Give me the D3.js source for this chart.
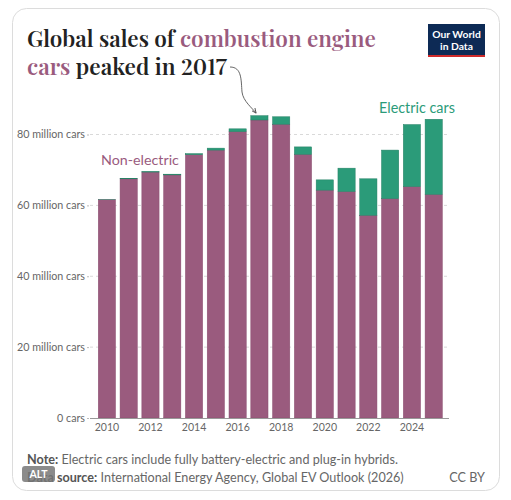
<!DOCTYPE html>
<html>
<head>
<meta charset="utf-8">
<script src="https://cdn.jsdelivr.net/npm/d3@7.9.0/dist/d3.min.js"></script>
<style>
  html, body { margin: 0; padding: 0; background: #fff; }
  svg { display: block; font-family: Lato, "Noto Sans", sans-serif; }
  .title { font-variant-numeric: lining-nums; font-feature-settings: "lnum" 1; }
</style>
</head>
<body>
<div id="chart"></div>
<script>
// values in million cars
const years = [2010, 2011, 2012, 2013, 2014, 2015, 2016, 2017, 2018, 2019, 2020, 2021, 2022, 2023, 2024, 2025];
const nonElectric = [61.6, 67.5, 69.4, 68.6, 74.3, 75.6, 80.8, 84.1, 82.9, 74.4, 64.3, 63.9, 57.2, 61.9, 65.3, 63.1];
const electric = [0.02, 0.05, 0.12, 0.2, 0.3, 0.55, 0.8, 1.2, 2.1, 2.1, 2.9, 6.6, 10.3, 13.7, 17.5, 21.2];
const yTicks = [0, 20, 40, 60, 80];
const xTicks = [2010, 2012, 2014, 2016, 2018, 2020, 2022, 2024];

const width = 511, height = 500;
const purple = "#9a5b7e", green = "#2b9b79";

const svg = d3.select("#chart").append("svg")
  .attr("width", width).attr("height", height);

// font size that makes a sample string a given width
function sizeFor(str, target, attrs) {
  const t = svg.append("text").attr("font-size", 20).text(str);
  Object.entries(attrs || {}).forEach(([k, v]) => t.attr(k, v));
  const w = t.node().getComputedTextLength();
  t.remove();
  return 20 * target / w;
}

// card
svg.append("rect")
  .attr("x", 12.5).attr("y", 8.5).attr("width", 487).attr("height", 482)
  .attr("rx", 14).attr("fill", "#fff").attr("stroke", "#dcdcdc");

const x = d3.scaleBand()
  .domain(years)
  .range([96.1, 444.5])
  .paddingInner(0.21)
  .paddingOuter(0.1);

const y = d3.scaleLinear()
  .domain([0, 80])
  .range([418, 134.5]);

// gridlines
svg.append("g").attr("class", "gridlines")
  .selectAll("line")
  .data(yTicks.filter(d => d > 0))
  .join("line")
  .attr("x1", 90).attr("x2", 450)
  .attr("y1", d => y(d)).attr("y2", d => y(d))
  .attr("stroke", "#d9d9d9")
  .attr("stroke-dasharray", "3,3");

// y axis labels
const yFont = sizeFor("80 million cars", 68);
const yAxis = d3.axisLeft(y)
  .tickValues(yTicks)
  .tickSize(2)
  .tickPadding(2)
  .tickFormat(d => d === 0 ? "0 cars" : d + " million cars");
svg.append("g")
  .attr("transform", "translate(89,0)")
  .call(yAxis)
  .call(g => g.select(".domain").remove())
  .call(g => g.selectAll(".tick line").attr("stroke", "#bbb"))
  .call(g => g.selectAll("text")
    .attr("fill", "#666").attr("font-size", yFont)
    .attr("font-family", "Lato, sans-serif"));

// stacked bars
const rows = years.map((yr, i) => ({ year: yr, ne: nonElectric[i], ev: electric[i] }));

svg.append("g").selectAll("rect")
  .data(rows)
  .join("rect")
  .attr("x", d => x(d.year))
  .attr("width", x.bandwidth())
  .attr("y", d => y(d.ne))
  .attr("height", d => y(0) - y(d.ne))
  .attr("fill", purple)
  .attr("stroke", "#8a4d6f").attr("stroke-width", 0.5);

svg.append("g").selectAll("rect")
  .data(rows)
  .join("rect")
  .attr("x", d => x(d.year))
  .attr("width", x.bandwidth())
  .attr("y", d => y(d.ne + d.ev))
  .attr("height", d => y(d.ne) - y(d.ne + d.ev))
  .attr("fill", green)
  .attr("stroke", "#237f63").attr("stroke-width", 0.5);

// baseline + x axis
svg.append("line")
  .attr("x1", 90).attr("x2", 449)
  .attr("y1", y(0) + 0.5).attr("y2", y(0) + 0.5)
  .attr("stroke", "#999");

const xFont = sizeFor("2010", 24.5);
const xAxis = d3.axisBottom(x)
  .tickValues(xTicks)
  .tickSize(0)
  .tickPadding(6);
svg.append("g")
  .attr("transform", `translate(0, ${y(0)})`)
  .call(xAxis)
  .call(g => g.select(".domain").remove())
  .call(g => g.selectAll("text")
    .attr("fill", "#666").attr("font-size", xFont)
    .attr("font-family", "Lato, sans-serif"));

// series labels
svg.append("text")
  .attr("x", 101).attr("y", 165)
  .attr("font-size", sizeFor("Non-electric", 78)).attr("fill", purple)
  .text("Non-electric");
svg.append("text")
  .attr("x", 379).attr("y", 112.5)
  .attr("font-size", sizeFor("Electric cars", 76)).attr("fill", green)
  .text("Electric cars");

// title
const titleFont = "'Playfair Display', 'DejaVu Serif', serif";
function fitText(sel, target) {
  const w = sel.node().getComputedTextLength();
  const fs = parseFloat(sel.attr("font-size"));
  sel.attr("font-size", fs * target / w);
}
const t1 = svg.append("text").attr("class", "title")
  .attr("x", 27).attr("y", 47)
  .attr("font-family", titleFont).attr("font-size", 22)
  .attr("font-weight", 600).attr("fill", "#222");
t1.append("tspan").text("Global sales of ");
t1.append("tspan").attr("fill", purple).text("combustion engine");
fitText(t1, 349);

const t2 = svg.append("text").attr("class", "title")
  .attr("x", 27).attr("y", 74.5)
  .attr("font-family", titleFont).attr("font-size", 22)
  .attr("font-weight", 600).attr("fill", "#222");
t2.append("tspan").attr("fill", purple).text("cars");
t2.append("tspan").text(" peaked in 2017");
fitText(t2, 200);

// arrow to 2017
svg.append("defs").append("marker")
  .attr("id", "arrowhead")
  .attr("viewBox", "0 0 10 10")
  .attr("refX", 8).attr("refY", 5)
  .attr("markerWidth", 6).attr("markerHeight", 6)
  .attr("orient", "auto")
  .append("path")
  .attr("d", "M0,1 L9,5 L0,9")
  .attr("fill", "none").attr("stroke", "#444").attr("stroke-width", 1.5);

const tip = [x(2017) + 5, y(nonElectric[7] + electric[7]) - 3];
svg.append("path")
  .attr("d", `M230,67 C242,67 241,80 242,92 C243,101 ${tip[0] - 3},${tip[1] - 4} ${tip[0]},${tip[1]}`)
  .attr("fill", "none").attr("stroke", "#555").attr("stroke-width", 0.9)
  .attr("marker-end", "url(#arrowhead)");

// logo
const logoFont = sizeFor("Our World", 48.5, { "font-weight": 700 });
const logo = svg.append("g").attr("transform", "translate(428,24)");
logo.append("rect").attr("width", 57).attr("height", 33).attr("fill", "#0d2a55");
logo.append("rect").attr("y", 31).attr("width", 57).attr("height", 2).attr("fill", "#cf2a2a");
logo.append("text").attr("x", 28.5).attr("y", 14)
  .attr("text-anchor", "middle").attr("fill", "#fff")
  .attr("font-size", logoFont).attr("font-weight", 700).text("Our World");
logo.append("text").attr("x", 28.5).attr("y", 25.5)
  .attr("text-anchor", "middle").attr("fill", "#fff")
  .attr("font-size", logoFont).attr("font-weight", 700).text("in Data");

// footer
const note = svg.append("text")
  .attr("x", 27).attr("y", 463.5)
  .attr("font-size", 11.5).attr("fill", "#666");
note.append("tspan").attr("font-weight", 700).attr("fill", "#555").text("Note:");
note.append("tspan").text(" Electric cars include fully battery-electric and plug-in hybrids.");
fitText(note, 371);
const footFont = parseFloat(note.attr("font-size"));

const src = svg.append("text")
  .attr("x", 27).attr("y", 481.5)
  .attr("font-size", footFont).attr("fill", "#666");
src.append("tspan").attr("font-weight", 700).attr("fill", "#555").text("Data source:");
src.append("tspan").text(" International Energy Agency, Global EV Outlook (2026)");

svg.append("text")
  .attr("x", 485).attr("y", 481.5)
  .attr("text-anchor", "end")
  .attr("font-size", footFont).attr("fill", "#666")
  .text("CC BY");

// ALT badge
const alt = svg.append("g").attr("transform", "translate(22,466)");
alt.append("rect").attr("width", 33).attr("height", 16).attr("rx", 3)
  .attr("fill", "#777").attr("fill-opacity", 0.85);
alt.append("text").attr("x", 16.5).attr("y", 12)
  .attr("text-anchor", "middle").attr("fill", "#fff")
  .attr("font-size", 10.5).attr("font-weight", 700).text("ALT");
</script>
</body>
</html>
